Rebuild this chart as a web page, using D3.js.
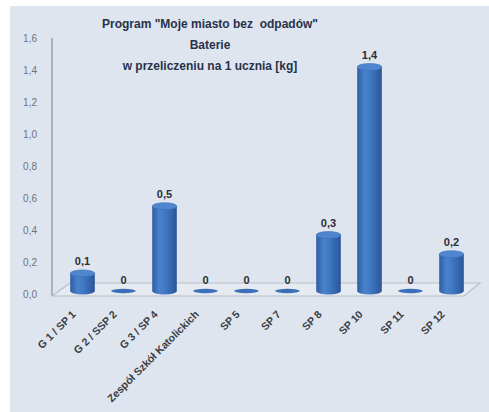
<!DOCTYPE html>
<html><head><meta charset="utf-8">
<script src="https://cdn.jsdelivr.net/npm/d3@7"></script>
<style>html,body{margin:0;padding:0;background:#fff;}svg{display:block;}text{white-space:pre;}</style>
</head><body>
<svg id="c" width="489" height="412"></svg>
<script>
const categories = ["G 1 / SP 1","G 2 / SSP 2","G 3 / SP 4","Zespół Szkół Katolickich","SP 5","SP 7","SP 8","SP 10","SP 11","SP 12"];
const values = [0.11, 0, 0.53, 0, 0, 0, 0.35, 1.40, 0, 0.23];
const valueLabels = ["0,1","0","0,5","0","0","0","0,3","1,4","0","0,2"];
const yTicks = [0,0.2,0.4,0.6,0.8,1.0,1.2,1.4,1.6];
const titleLines = ['Program "Moje miasto bez  odpadów"','Baterie','w przeliczeniu na 1 ucznia [kg]'];

const svg = d3.select("#c");
svg.append("rect").attr("x",10).attr("y",6).attr("width",479).attr("height",406).attr("fill","#dfe5ef");

const defs = svg.append("defs");
const g1 = defs.append("linearGradient").attr("id","cyl").attr("x1","0").attr("x2","1");
g1.append("stop").attr("offset","0").attr("stop-color","#2d5ea6");
g1.append("stop").attr("offset","0.3").attr("stop-color","#4a82cc");
g1.append("stop").attr("offset","0.55").attr("stop-color","#3f77c2");
g1.append("stop").attr("offset","1").attr("stop-color","#2a5596");

const y = d3.scaleLinear().domain([0,1.6]).range([294,38]);
const x = d3.scaleBand().domain(categories).range([62,472]).paddingInner(0.4).paddingOuter(0.2);

// axis line + floor
svg.append("line").attr("x1",52).attr("x2",52).attr("y1",y(1.6)).attr("y2",y(0)+2).attr("stroke","#8a8f99").attr("stroke-width",1.2);
svg.append("path").attr("d",`M52,${y(0)+2} L70,${y(0)-11} L480,${y(0)-11} L464,${y(0)+2} Z`)
  .attr("fill","#e6ebf2").attr("stroke","#b9bec8").attr("stroke-width",1.2);

// y tick labels
svg.append("g").selectAll("text").data(yTicks).join("text")
  .attr("x",37).attr("y",d=>y(d)+3.5).attr("text-anchor","end")
  .attr("font-family","Liberation Sans, Arial, sans-serif").attr("font-size",10).attr("fill","#6f747e")
  .text(d=>d3.format(".1f")(d).replace(".",","));

// bars
const base = y(0)-3;
const bars = svg.append("g");
categories.forEach((c,i)=>{
  const cx = x(c)+x.bandwidth()/2, w = x.bandwidth(), rx = w/2, ry = 3.5;
  const v = values[i];
  const top = base - (y(0)-y(v));
  if (v>0) {
    bars.append("path")
      .attr("d",`M${cx-rx},${top} L${cx-rx},${base} A${rx},${ry} 0 0 0 ${cx+rx},${base} L${cx+rx},${top} Z`)
      .attr("fill","url(#cyl)");
    bars.append("ellipse").attr("cx",cx).attr("cy",top).attr("rx",rx).attr("ry",ry).attr("fill","#4f86cf").attr("stroke","#3a6db5").attr("stroke-width",0.6);
  } else {
    bars.append("ellipse").attr("cx",cx).attr("cy",base).attr("rx",rx).attr("ry",2.2).attr("fill","#3b6fb8");
  }
  svg.append("text").attr("x",cx).attr("y",top-(v>0?8:7)).attr("text-anchor","middle")
    .attr("font-family","Liberation Sans, Arial, sans-serif").attr("font-weight","bold").attr("font-size",11).attr("fill","#2a2e36")
    .text(valueLabels[i]);
  svg.append("text").attr("transform",`translate(${cx-6},${y(0)+21}) rotate(-45)`).attr("text-anchor","end")
    .attr("font-family","Liberation Sans, Arial, sans-serif").attr("font-weight","bold").attr("font-size",10.6).attr("fill","#3a3d44")
    .text(c);
});

// title
svg.append("g").selectAll("text").data(titleLines).join("text")
  .attr("x",210).attr("y",(d,i)=>28+i*21).attr("text-anchor","middle")
  .attr("font-family","Liberation Sans, Arial, sans-serif").attr("font-weight","bold").attr("font-size",12).attr("fill","#27324a")
  .attr("xml:space","preserve")
  .text(d=>d);
</script>
</body></html>
